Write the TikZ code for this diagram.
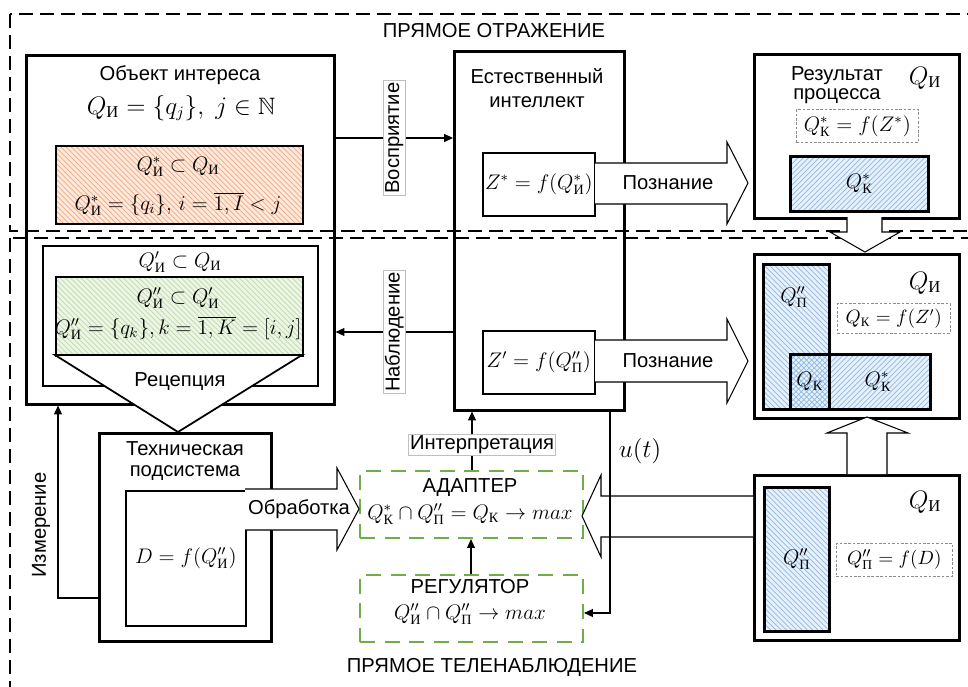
\documentclass[tikz,border=0pt]{standalone}
\usepackage{amsmath,amssymb}
\usepackage[no-math]{fontspec}
\setmainfont{Liberation Sans}
\newfontfamily\cyrserif{Liberation Serif}
\usetikzlibrary{arrows.meta,patterns}
\newcommand{\csub}[1]{\text{\cyrserif #1}}
\definecolor{hatchblue}{RGB}{140,185,228}
\definecolor{fillblue}{RGB}{232,241,251}
\definecolor{hatchorange}{RGB}{244,170,125}
\definecolor{fillorange}{RGB}{253,233,221}
\definecolor{hatchgreen}{RGB}{190,220,170}
\definecolor{fillgreen}{RGB}{236,245,230}
\definecolor{ctrlgreen}{RGB}{112,173,71}
\begin{document}
\begin{tikzpicture}[x=0.02cm,y=-0.02cm,
    every node/.style={font=\fontsize{11.5}{13}\selectfont},
    bigsym/.style={font=\fontsize{13.5}{15}\selectfont},
    bigbox/.style={draw,line width=1.5pt,anchor=north west,inner sep=0pt},
    smallbox/.style={draw,line width=1pt,anchor=north west,inner sep=0pt},
    setbox/.style={draw,line width=1.5pt,anchor=north west,inner sep=0pt},
    formbox/.style={draw=black!45,dash pattern=on 1.5pt off 1pt,line width=0.4pt,anchor=north west,inner sep=0pt},
    ctrlbox/.style={draw=ctrlgreen,line width=1.2pt,dash pattern=on 8.5pt off 5.5pt,anchor=north west,inner sep=0pt},
    region/.style={line width=0.7pt,dash pattern=on 8pt off 4pt},
    conn/.style={-{Triangle[length=5pt,width=4.5pt]},line width=0.6pt},
    tag/.style={fill=white,draw=black!25,line width=0.4pt,inner sep=1pt},
    blockarrow/.style={draw,fill=white,line width=0.6pt},
    bluehatch/.style={preaction={fill=fillblue},pattern=north east lines,pattern color=hatchblue},
    bluehatchb/.style={preaction={fill=fillblue},pattern=north west lines,pattern color=hatchblue},
    bluecross/.style={preaction={fill=fillblue},pattern=crosshatch,pattern color=hatchblue},
    orangehatch/.style={preaction={fill=fillorange},pattern=north west lines,pattern color=hatchorange},
    greenhatch/.style={preaction={fill=fillgreen},pattern=north west lines,pattern color=hatchgreen}]
  \useasboundingbox (0,0) rectangle (968,687);
  \clip (0,0) rectangle (968,687);

  % regions
  \draw[region] (10,14) rectangle (985,231);
  \draw[region] (10,238) rectangle (985,705);
  \node (title1) at (494,31) {ПРЯМОЕ ОТРАЖЕНИЕ};
  \node (title2) at (492,667) {ПРЯМОЕ ТЕЛЕНАБЛЮДЕНИЕ};

  % object of interest
  \node[bigbox,minimum width=6.16cm,minimum height=6.98cm] (obj) at (25,54) {};
  \node[smallbox,orangehatch,minimum width=4.94cm,minimum height=1.56cm] (ostar) at (55,145) {};
  \node[smallbox,minimum width=5.5cm,minimum height=2.8cm] (recv) at (42,245) {};
  \node[smallbox,greenhatch,minimum width=4.94cm,minimum height=1.58cm] (green) at (55,276) {};
  \draw[blockarrow,line width=1pt] (55,355) -- (302,355) -- (178,432) -- cycle;
  \node (objtitle) at (180,75) {Объект интереса};
  \node[bigsym] (objset) at (181,108) {$Q_{\csub{И}}=\{q_j\},\;j\in\mathbb{N}$};
  \node (ostar1) at (178,167) {$Q^{*}_{\csub{И}}\subset Q_{\csub{И}}$};
  \node (ostar2) at (178,204) {$Q^{*}_{\csub{И}}=\{q_i\},\,i=\overline{1,I}<j$};
  \node (recv1) at (180,262) {$Q'_{\csub{И}}\subset Q_{\csub{И}}$};
  \node (green1) at (178,298) {$Q''_{\csub{И}}\subset Q'_{\csub{И}}$};
  \node (green2) at (178,328) {$Q''_{\csub{И}}=\{q_k\},k=\overline{1,K}=[i,j]$};
  \node (recept) at (180,382) {Рецепция};

  % technical subsystem
  \node[bigbox,minimum width=3.44cm,minimum height=4.16cm] (tech) at (98,432) {};
  \node[smallbox,minimum width=2.4cm,minimum height=2.7cm] (dbox) at (125,490) {$D=f(Q''_{\csub{И}})$};
  \node[align=center,font=\fontsize{11.5}{12}\selectfont] (techtitle) at (185,461) {Техническая\\подсистема};

  % natural intellect
  \node[bigbox,minimum width=3.4cm,minimum height=7.18cm] (ei) at (453,50) {};
  \node[align=center,font=\fontsize{11.5}{14}\selectfont] (eititle) at (537,88) {Естественный\\интеллект};
  \node[smallbox,minimum width=2.24cm,minimum height=1.26cm] (zs) at (482,152) {$Z^{*}=f(Q^{*}_{\csub{И}})$};
  \node[smallbox,minimum width=2.24cm,minimum height=1.26cm] (zp) at (482,330) {$Z'=f(Q''_{\csub{П}})$};

  % result of process
  \node[bigbox,minimum width=4.1cm,minimum height=3.28cm] (res) at (753,53) {};
  \node[align=center,font=\fontsize{11.5}{11}\selectfont] (restitle) at (837,85) {Результат\\процесса};
  \node[bigsym] (resq) at (925,78) {$Q_{\csub{И}}$};
  \node[formbox,minimum width=2.44cm,minimum height=0.66cm] (fks) at (796,109) {$Q^{*}_{\csub{К}}=f(Z^{*})$};
  \node[setbox,bluehatch,minimum width=2.76cm,minimum height=1.1cm] (qks) at (789,155) {$Q^{*}_{\csub{К}}$};

  % result of cognition
  \node[bigbox,minimum width=4.1cm,minimum height=3.28cm] (res2) at (753,253) {};
  \node[setbox,bluehatchb,minimum width=1.32cm,minimum height=2.9cm] (qp2) at (762,263) {};
  \node[setbox,bluehatch,minimum width=2.8cm,minimum height=1.1cm] (qks2) at (789,353) {};
  \node[setbox,bluecross,minimum width=0.78cm,minimum height=1.1cm] (qk) at (789,353) {$Q_{\csub{К}}$};
  \node (qp2lbl) at (794,297) {$Q''_{\csub{П}}$};
  \node (qks2lbl) at (878,382) {$Q^{*}_{\csub{К}}$};
  \node[bigsym] (res2q) at (925,283) {$Q_{\csub{И}}$};
  \node[formbox,minimum width=2.26cm,minimum height=0.6cm,font=\fontsize{10.5}{12}\selectfont] (fk) at (837,303) {$Q_{\csub{К}}=f(Z')$};

  % result of measurement
  \node[bigbox,minimum width=4.1cm,minimum height=3.3cm] (res3) at (753,474) {};
  \node[setbox,bluehatchb,minimum width=1.3cm,minimum height=2.88cm] (qp3) at (763,486) {$Q''_{\csub{П}}$};
  \node[bigsym] (res3q) at (925,502) {$Q_{\csub{И}}$};
  \node[formbox,minimum width=2.32cm,minimum height=0.66cm,font=\fontsize{11}{12}\selectfont] (fp) at (836,543) {$Q''_{\csub{П}}=f(D)$};

  % adapter and regulator
  \node[ctrlbox,minimum width=4.46cm,minimum height=1.34cm] (adapter) at (359,470) {};
  \node (adtitle) at (470,488) {АДАПТЕР};
  \node (adform) at (470,514) {$Q^{*}_{\csub{К}}\cap Q''_{\csub{П}}=Q_{\csub{К}}\to max$};
  \node[ctrlbox,minimum width=4.46cm,minimum height=1.34cm] (regul) at (359,574) {};
  \node (regtitle) at (470,587) {РЕГУЛЯТОР};
  \node (regform) at (470,614) {$Q''_{\csub{И}}\cap Q''_{\csub{П}}\to max$};

  % thin connectors
  \draw[conn] (obj.east |- 0,138) -- (ei.west |- 0,138) node[midway,tag,rotate=90] (perc) {Восприятие};
  \draw[conn] (ei.west |- 0,332) -- (obj.east |- 0,332) node[midway,tag,rotate=90] (obs) {Наблюдение};
  \draw[conn] (tech.west |- 0,598) -| (obj.south -| 58,0);
  \node[rotate=90] (meas) at (41,525) {Измерение};
  \draw[conn] (adapter.north -| 472,0) -- (ei.south -| 472,0);
  \node[tag] (interp) at (482,445) {Интерпретация};
  \draw[conn] (regul.north -| 471,0) -- (adapter.south -| 471,0);

  % block arrows
  \draw[blockarrow] (595,163) -- (727,163) -- (727,142) -- (748,183) -- (727,224) -- (727,204) -- (595,204);
  \node (cogn1) at (668,183) {Познание};
  \draw[blockarrow] (595,340) -- (727,340) -- (727,319) -- (748,361) -- (727,403) -- (727,382) -- (595,382);
  \node (cogn2) at (668,361) {Познание};
  \draw[blockarrow] (847,217) -- (847,232) -- (830,232) -- (865,252) -- (900,232) -- (882,232) -- (882,217);
  \draw[blockarrow] (847,474) -- (847,433) -- (827,433) -- (867,417) -- (908,433) -- (887,433) -- (887,474);
  \draw[blockarrow] (753,496) -- (601,496) -- (601,475) -- (582,516) -- (601,557) -- (601,537) -- (753,537);
  \draw[blockarrow] (245,489) -- (337,489) -- (337,468) -- (359,509) -- (337,550) -- (337,530) -- (245,530);
  \node (proc) at (299,509) {Обработка};

  % control signal
  \draw[conn] (ei.south -| 610,0) |- (regul.east |- 0,613);
  \node[font=\fontsize{14}{16}\selectfont] (ut) at (640,451) {$u(t)$};
\end{tikzpicture}
\end{document}
